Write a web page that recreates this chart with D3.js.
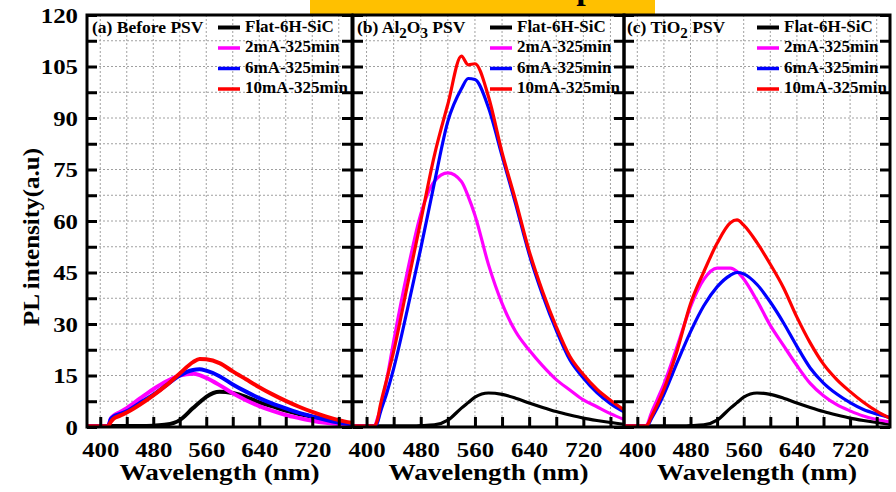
<!DOCTYPE html>
<html>
<head>
<meta charset="utf-8">
<script src="https://cdn.jsdelivr.net/npm/d3@7"></script>
<style>
  body { margin: 0; background: #fff; }
  svg { display: block; }
  text { font-family: "Liberation Serif", "Times New Roman", serif; font-weight: bold; fill: #000; }
</style>
</head>
<body>
<svg id="chart" width="896" height="492"></svg>
<script>
// Shared wavelength sampling (nm)
const wavelengths = [380, 400, 412, 416, 420, 430, 440, 460, 480, 500, 520, 540, 550, 560, 580, 600, 620, 640, 660, 680, 700, 720, 740, 760, 780];

const seriesNames = ["Flat-6H-SiC", "2mA-325min", "6mA-325min", "10mA-325min"];
const seriesColors = ["#000000", "#ff00ff", "#0000ff", "#ff0000"];

const yTicks = [0, 7.5, 15, 22.5, 30, 37.5, 45, 52.5, 60, 67.5, 75, 82.5, 90, 97.5, 105, 112.5, 120];
const xTicks = [400, 440, 480, 520, 560, 600, 640, 680, 720, 760];
const xTickLabels = [400, 480, 560, 640, 720];

// (a) Before PSV
const flatA  = [0.3, 0.3, 0.3, 0.3, 0.3, 0.3, 0.3, 0.3, 0.4, 0.7, 2.0, 5.5, 7.2, 8.8, 10.3, 9.9, 8.8, 7.2, 6.0, 4.8, 3.8, 3.0, 2.2, 1.5, 0.9];
const ma2A   = [0.2, 0.2, 0.3, 2.5, 3.3, 4.4, 5.5, 8.3, 11.0, 13.3, 15.0, 15.5, 15.1, 14.3, 12.2, 9.8, 7.8, 6.1, 4.7, 3.5, 2.6, 1.8, 1.2, 0.8, 0.4];
const ma6A   = [0.2, 0.2, 0.3, 2.3, 3.0, 3.8, 4.6, 7.0, 9.4, 12.2, 15.0, 16.6, 16.8, 16.4, 14.8, 12.4, 10.3, 8.4, 6.8, 5.4, 4.1, 3.1, 2.1, 1.3, 0.8];
const ma10A  = [0.2, 0.2, 0.3, 1.5, 2.4, 3.3, 4.2, 6.5, 9.2, 12.2, 15.6, 18.9, 19.8, 19.7, 18.6, 16.2, 13.9, 11.6, 9.5, 7.6, 5.9, 4.4, 3.1, 2.0, 1.2];

// (b) Al2O3 PSV
const flatB  = [0.3, 0.3, 0.3, 0.3, 0.3, 0.3, 0.3, 0.3, 0.4, 0.6, 2.0, 5.5, 7.1, 8.7, 9.9, 9.5, 8.4, 7.0, 5.7, 4.5, 3.5, 2.6, 1.9, 1.3, 0.8];
const ma2B   = [0.3, 0.3, 0.4, 2.5, 5, 14, 25, 45, 62, 71.5, 74, 71.5, 67.2, 61.7, 47.3, 36, 27.8, 22.4, 17.8, 13.8, 10.8, 7.9, 5.9, 3.9, 2.2];
const ma6B   = [0.3, 0.3, 0.3, 1.2, 4, 10, 17, 34, 52, 71, 89, 98.5, 101.5, 101.2, 93, 79, 65, 50.4, 38.4, 28.2, 19.6, 14.3, 10, 6.8, 4.4];
const ma10B  = [0.3, 0.3, 0.4, 2, 6, 14, 22, 41, 60, 79, 94, 108, 105.5, 105.8, 96.2, 80, 66, 51.3, 39.4, 29.2, 20.6, 15.3, 11, 7.8, 5];

// (c) TiO2 PSV
const flatC  = [0.3, 0.3, 0.3, 0.3, 0.3, 0.3, 0.3, 0.3, 0.4, 0.6, 2.0, 5.5, 7.1, 8.7, 9.9, 9.5, 8.4, 7.0, 5.7, 4.5, 3.5, 2.6, 1.9, 1.3, 0.8];
const ma2C   = [0.3, 0.3, 0.3, 1.2, 3.5, 8, 12.5, 23.5, 35, 43, 46.3, 46.3, 45.3, 43.1, 36.8, 29.6, 23.7, 17.9, 12.7, 9.1, 6.5, 4.7, 3.2, 2.2, 1.5];
const ma6C   = [0.3, 0.3, 0.3, 0.5, 2, 5.5, 9.5, 18.8, 27.7, 35.3, 40.8, 44.2, 45.0, 44.6, 41.5, 36.4, 30.3, 23.5, 17.2, 12.8, 9.6, 7.1, 5.1, 3.8, 2.8];
const ma10C  = [0.3, 0.3, 0.3, 0.8, 2.5, 6.5, 11, 22.3, 35.9, 45.2, 53.5, 59.5, 60.3, 58.8, 53.7, 47.4, 40.5, 32, 24.5, 18.3, 13.8, 10.3, 7.2, 4.6, 2.5];

const panels = [
  { id: "a", title: [["(a) Before PSV", 0]], series: [flatA, ma2A, ma6A, ma10A],
    x0: 87, x1: 352, lw: 4, labelDx: 5, legendDx: 131, showY: true },
  { id: "b", title: [["(b) Al", 0], ["2", 1], ["O", 0], ["3", 1], [" PSV", 0]], series: [flatB, ma2B, ma6B, ma10B],
    x0: 353, x1: 624, lw: 3.2, labelDx: 4, legendDx: 137, showY: false },
  { id: "c", title: [["(c) TiO", 0], ["2", 1], [" PSV", 0]], series: [flatC, ma2C, ma6C, ma10C],
    x0: 624, x1: 890, lw: 3.2, labelDx: 3, legendDx: 133, showY: false }
];

const plotTop = 15, plotBottom = 427;
const svg = d3.select("#chart");
const y = d3.scaleLinear().domain([0, 120]).range([plotBottom, plotTop]);

// Heading band along the top edge (heading text sits mostly above the page)
svg.append("rect").attr("x", 310).attr("y", 0).attr("width", 345).attr("height", 14).attr("fill", "#ffc000");
svg.append("text").attr("x", 563).attr("y", -1).attr("font-size", 34).text("spectra");

// stretch tick labels horizontally to their printed width
function widen(sel, perChar) {
  sel.each(function () {
    const s = this.textContent;
    if (s) d3.select(this).attr("textLength", s.length * perChar).attr("lengthAdjust", "spacingAndGlyphs");
  });
}

panels.forEach(p => {
  const x = d3.scaleLinear().domain([380, 780]).range([p.x0, p.x1]);
  const g = svg.append("g");

  g.append("clipPath").attr("id", "clip-" + p.id)
    .append("rect").attr("x", p.x0).attr("y", plotTop).attr("width", p.x1 - p.x0).attr("height", plotBottom - plotTop);

  // dotted grid
  const grid = g.append("g").attr("stroke", "#a0a0a0").attr("stroke-width", 1).attr("stroke-dasharray", "2,2");
  grid.selectAll("line.v").data(xTicks).join("line").attr("class", "v")
    .attr("x1", d => x(d)).attr("x2", d => x(d)).attr("y1", plotTop).attr("y2", plotBottom);
  grid.selectAll("line.h").data(yTicks.filter(v => v > 0 && v < 120)).join("line").attr("class", "h")
    .attr("x1", p.x0).attr("x2", p.x1).attr("y1", d => y(d)).attr("y2", d => y(d));

  // spectra
  const line = d3.line().x((d, i) => x(wavelengths[i])).y(d => y(d)).curve(d3.curveMonotoneX);
  const curves = g.append("g").attr("clip-path", `url(#clip-${p.id})`);
  p.series.forEach((vals, k) => {
    curves.append("path").datum(vals)
      .attr("d", line).attr("fill", "none")
      .attr("stroke", seriesColors[k]).attr("stroke-width", p.lw)
      .attr("stroke-linejoin", "round");
  });

  // axes with inward ticks
  const fmtX = d => xTickLabels.includes(d) ? d : "";
  const ax = g.append("g").attr("transform", `translate(0,${plotBottom})`)
    .call(d3.axisBottom(x).tickValues(xTicks).tickSize(-10).tickPadding(14).tickFormat(fmtX));

  const fmtY = d => (p.showY && d % 15 === 0) ? d : "";
  const ay = g.append("g").attr("transform", `translate(${p.x0},0)`)
    .call(d3.axisLeft(y).tickValues(yTicks).tickSize(-10).tickPadding(9).tickFormat(fmtY));

  const ar = g.append("g").attr("transform", `translate(${p.x1},0)`)
    .call(d3.axisRight(y).tickValues(yTicks).tickSize(-10).tickFormat(""));

  [ax, ay, ar].forEach(a => {
    a.select(".domain").remove();
    a.selectAll(".tick line").attr("stroke", "#000").attr("stroke-width", 3);
    a.selectAll("text").attr("font-size", 22)
      .style("font-family", '"Liberation Serif", "Times New Roman", serif')
      .style("font-weight", "bold").attr("fill", "#000");
    widen(a.selectAll("text"), 12.4);
  });

  // frame
  g.append("rect").attr("x", p.x0).attr("y", plotTop).attr("width", p.x1 - p.x0).attr("height", plotBottom - plotTop)
    .attr("fill", "none").attr("stroke", "#000").attr("stroke-width", 3);

  // panel label with subscripts
  const t = g.append("text").attr("x", p.x0 + p.labelDx).attr("y", 33).attr("font-size", 17.5);
  p.title.forEach(([s, sub], i) => {
    const prevSub = i > 0 ? p.title[i - 1][1] : 0;
    t.append("tspan").text(s).attr("font-size", sub ? 15 : 17.5)
      .attr("dy", sub ? 5 : (prevSub ? -5 : 0));
  });

  // legend
  const lg = g.append("g");
  seriesNames.forEach((name, k) => {
    const by = 31.5 + k * 20.5;
    lg.append("line").attr("x1", p.x0 + p.legendDx).attr("x2", p.x0 + p.legendDx + 22)
      .attr("y1", by - 4).attr("y2", by - 4)
      .attr("stroke", seriesColors[k]).attr("stroke-width", k === 0 ? 4 : 3.5);
    lg.append("text").attr("x", p.x0 + p.legendDx + 27).attr("y", by).attr("font-size", 17).text(name);
  });

  // x-axis title
  g.append("text").attr("x", (p.x0 + p.x1) / 2).attr("y", 480).attr("text-anchor", "middle")
    .attr("font-size", 23).attr("textLength", 200).attr("lengthAdjust", "spacingAndGlyphs")
    .text("Wavelength (nm)");
});

// y-axis title
svg.append("text").attr("transform", "translate(39,237) rotate(-90)").attr("text-anchor", "middle")
  .attr("font-size", 23).attr("textLength", 178).attr("lengthAdjust", "spacingAndGlyphs")
  .text("PL intensity(a.u)");
</script>
</body>
</html>
